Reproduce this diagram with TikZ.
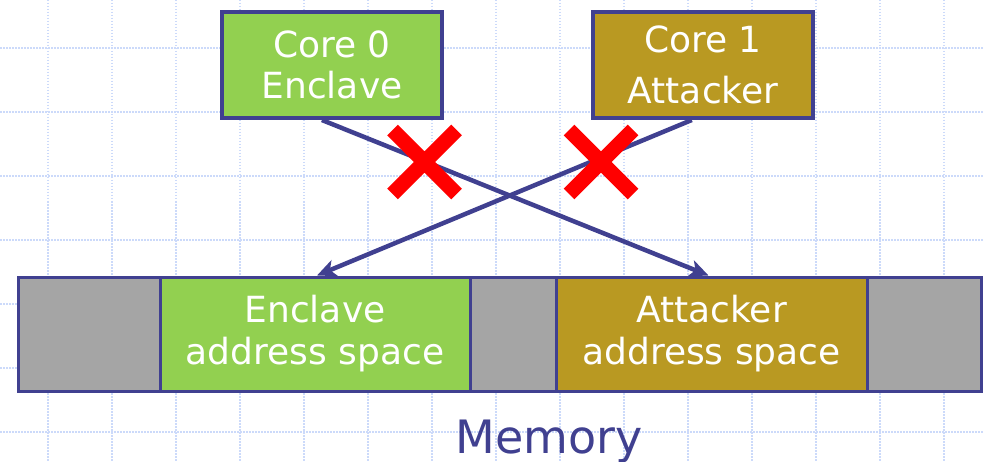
\documentclass[tikz,border=0pt]{standalone}
\usepackage{fontspec}
\setmainfont{DejaVu Sans}
\usetikzlibrary{arrows.meta,calc,shapes.misc}
\definecolor{edgeblue}{RGB}{64,64,144}
\definecolor{enclgreen}{RGB}{146,208,80}
\definecolor{attgold}{RGB}{185,153,34}
\definecolor{memgray}{RGB}{165,165,165}
\definecolor{gridblue}{RGB}{204,218,250}
\begin{document}
\begin{tikzpicture}[x=1pt,y=-1pt,
  core/.style={draw=edgeblue, line width=4pt, minimum width=220pt, minimum height=106pt,
    inner sep=0pt, text=white, align=center},
  region/.style={draw=edgeblue, line width=3pt, minimum height=114pt, inner sep=0pt,
    text=white, align=center, font=\fontsize{36}{42}\selectfont},
  access/.style={draw=edgeblue, line width=4.5pt, -{Stealth[length=19pt,width=17pt,inset=5pt]}},
  deny/.style={cross out, draw=red, line width=15pt, minimum size=64pt, inner sep=0pt, outer sep=0pt},
  gridline/.style={gridblue, line width=1.4pt, dash pattern=on 1.5pt off 1.5pt}]
\useasboundingbox (0,0) rectangle (984,462);
\fill[white] (0,0) rectangle (984,462);

% background grid
\foreach \x in {48,112,...,944} \draw[gridline] (\x,0) -- (\x,462);
\foreach \y in {48,112,...,432} \draw[gridline] (0,\y) -- (984,\y);

% cores
\node[core, fill=enclgreen, font=\fontsize{36}{41}\selectfont] (c0) at (332,65) {Core 0\\Enclave};
\node[core, fill=attgold, font=\fontsize{36}{51}\selectfont] (c1) at (703,65) {Core 1\\Attacker};

% memory strip
\node[region, fill=memgray, minimum width=142pt] (g0) at (89,334) {};
\node[region, fill=enclgreen, minimum width=310pt] (enc) at (315,334) {Enclave\\address space};
\node[region, fill=memgray, minimum width=86pt] (g1) at (513,334) {};
\node[region, fill=attgold, minimum width=311pt] (att) at (711.5,334) {Attacker\\address space};
\node[region, fill=memgray, minimum width=114pt] (g2) at (924,334) {};

\node[text=edgeblue, font=\fontsize{46}{55}\selectfont, anchor=base] (mem) at (549,453) {Memory};

% cross accesses
\draw[access] ($(c0.south west)!0.455!(c0.south east)$) -- ($(att.north)+(-3,0)$);
\draw[access] ($(c1.south west)!0.45!(c1.south east)$) -- ($(enc.north)+(2,0)$);

% blocked marks
\node[deny] (x0) at (424.5,162) {};
\node[deny] (x1) at (601,162) {};
\end{tikzpicture}
\end{document}
